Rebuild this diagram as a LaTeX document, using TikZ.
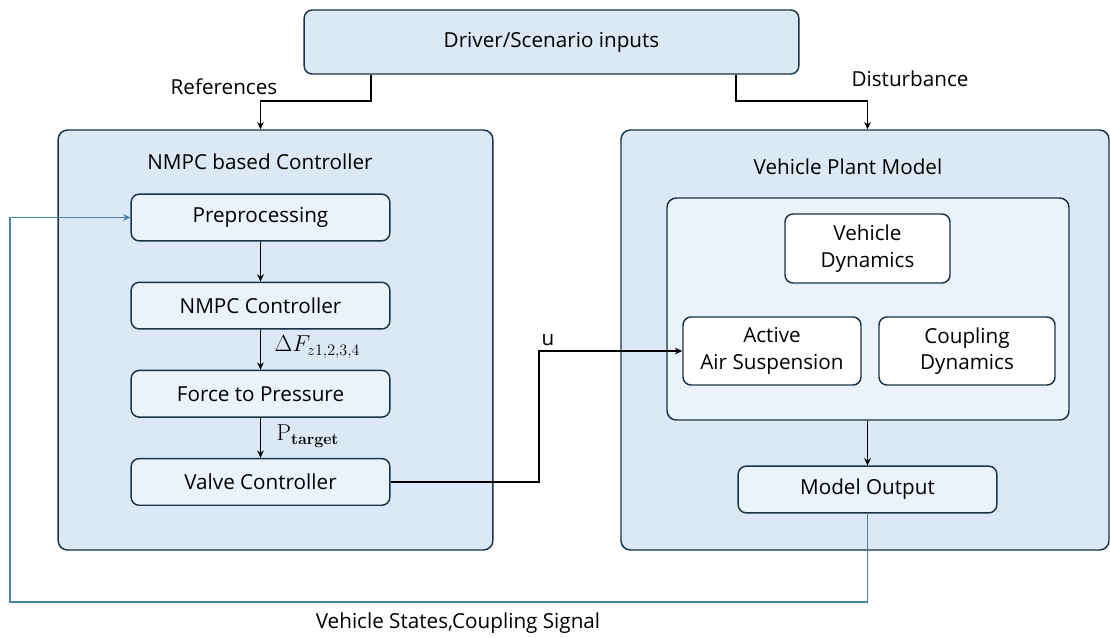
\documentclass[tikz,border=0pt]{standalone}
\usepackage[no-math]{fontspec}
\setmainfont{Open Sans}
\usetikzlibrary{positioning,arrows.meta}
\definecolor{panelfill}{HTML}{DCE8F5}
\definecolor{boxfill}{HTML}{EAF2FB}
\definecolor{boxline}{HTML}{1B3346}
\definecolor{feedline}{HTML}{4A84A6}
\newcommand{\blocksize}{\fontsize{15.5}{20}\selectfont}
\tikzset{
  panel/.style={draw=boxline, fill=panelfill, rounded corners=7pt, line width=1.1pt},
  blockbox/.style={draw=boxline, fill=boxfill, rounded corners=6pt, line width=1.1pt,
    align=center, font=\blocksize, minimum width=194pt, minimum height=35pt, inner sep=2pt},
  plainbox/.style={blockbox, fill=white},
  flowarrow/.style={-{Stealth[length=5.5pt,width=5pt]}, line width=1pt},
  feedarrow/.style={flowarrow, draw=feedline, line width=1.2pt},
  flowlabel/.style={font=\blocksize},
  mathlabel/.style={font=\fontsize{17}{20}\selectfont, anchor=west},
}

\begin{document}
\begin{tikzpicture}[x=0.75pt, y=-0.75pt]
  \useasboundingbox (0,0) rectangle (1110,637);

  % inputs on top
  \node[blockbox, fill=panelfill, minimum width=371pt, minimum height=48pt] (inputs) at (551.5,42) {Driver/Scenario inputs};

  % controller panel
  \node[panel, minimum width=326pt, minimum height=315pt] (ctrl) at (275.5,340) {};
  \node[flowlabel] (ctrltitle) at (260,162) {NMPC based Controller};
  \node[blockbox] (prep) at (260.5,217.5) {Preprocessing};
  \node[blockbox, below=30pt of prep] (nmpc) {NMPC Controller};
  \node[blockbox, below=30pt of nmpc] (f2p) {Force to Pressure};
  \node[blockbox, below=30pt of f2p] (valve) {Valve Controller};

  % plant panel
  \node[panel, minimum width=366pt, minimum height=315pt] (plant) at (865,340) {};
  \node[flowlabel] (planttitle) at (848,167) {Vehicle Plant Model};
  \node[draw=boxline, fill=boxfill, rounded corners=7pt, line width=1.1pt,
    minimum width=301.5pt, minimum height=166.5pt] (core) at (868,309) {};
  \node[plainbox, minimum width=123.75pt, minimum height=51.75pt] (vdyn) at (867.5,248.5) {Vehicle\\Dynamics};
  \node[plainbox, minimum width=133.5pt, minimum height=51pt] (air) at (772,351) {Active\\Air Suspension};
  \node[plainbox, minimum width=132pt, minimum height=51pt] (coup) at (967,351) {Coupling\\Dynamics};
  \node[blockbox] (out) at (867.5,489.5) {Model Output};

  % references and disturbance
  \coordinate (refturn) at (371,101);
  \coordinate (distturn) at (736,101);
  \draw[flowarrow] (inputs.south -| refturn) -- (refturn) -| (prep |- ctrl.north);
  \draw[flowarrow] (inputs.south -| distturn) -- (distturn) -| (out |- plant.north);
  \node[flowlabel] (reflabel) at (224,87) {References};
  \node[flowlabel] (distlabel) at (910,79) {Disturbance};

  % controller chain
  \draw[flowarrow] (prep) -- (nmpc);
  \draw[flowarrow] (nmpc) -- (f2p);
  \draw[flowarrow] (f2p) -- (valve);
  \node[mathlabel] (dflabel) at (270,347) {$\Delta F_{z1,2,3,4}$};
  \node[mathlabel] (plabel) at (272,436) {$\mathrm{P}_{\mathbf{target}}$};

  % control input to the plant
  \coordinate (ujog) at (539,351);
  \draw[flowarrow] (valve.east) -| (ujog) -- (air.west);
  \node[flowlabel] (ulabel) at (548,340) {u};

  \draw[flowarrow] (core.south -| out) -- (out.north);

  % measured states back to the controller
  \coordinate (fbcorner) at (10,602);
  \draw[feedarrow] (out.south) |- (fbcorner) |- (prep.west);
  \node[flowlabel] (fblabel) at (458,623) {Vehicle States,Coupling Signal};
\end{tikzpicture}
\end{document}
